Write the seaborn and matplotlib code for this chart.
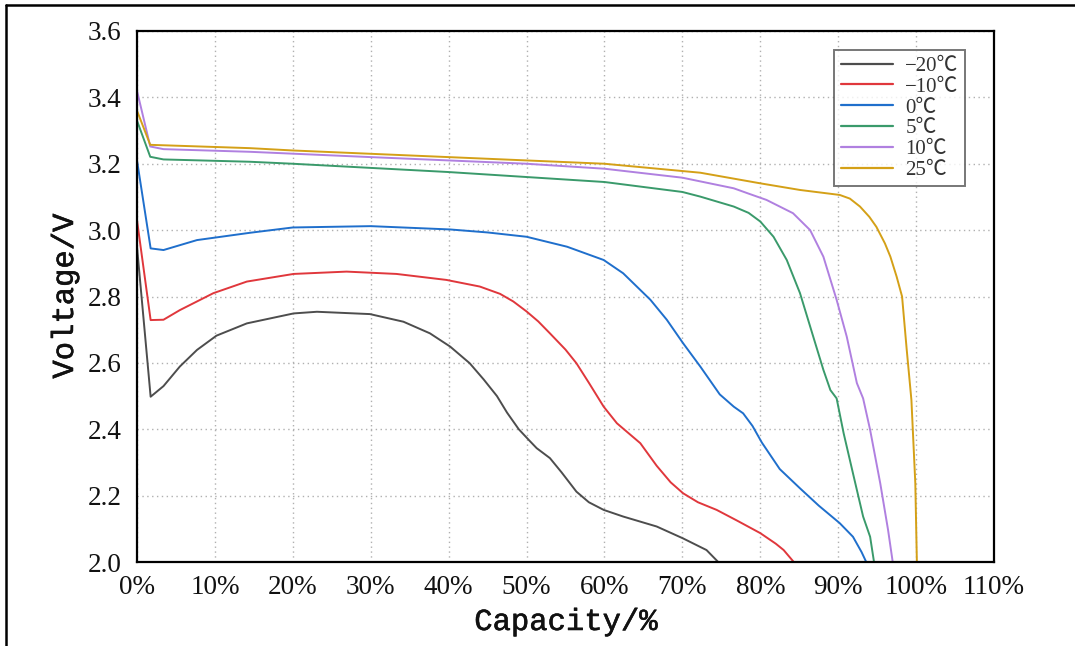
import numpy as np
import pandas as pd
import matplotlib
matplotlib.use("Agg")
import matplotlib.pyplot as plt
import matplotlib.patheffects as pe
import seaborn as sns
from matplotlib.lines import Line2D

# ---- data (Capacity %, Voltage V) ----
labels = ["−20℃", "−10℃", "0℃", "5℃", "10℃", "25℃"]
colors = ["#4d4d4d", "#e0373c", "#1f6fcc", "#3a9a6b", "#b080e0", "#d4a017"]

cap_m20 = [0.0, 1.75, 3.4, 5.5, 7.7, 10.2, 14.1, 20.1, 23.1, 29.9, 34.2, 37.6, 40.2, 42.7,
           44.5, 46.2, 47.5, 49.0, 50.4, 51.3, 53.0, 54.5, 56.4, 58.0, 59.9, 62.4, 66.7, 70.1,
           73.1, 74.6]
v_m20 = [2.95, 2.498, 2.530, 2.589, 2.639, 2.682, 2.719, 2.749, 2.754, 2.747, 2.724, 2.689, 2.649,
         2.599, 2.550, 2.500, 2.450, 2.400, 2.365, 2.343, 2.313, 2.270, 2.212, 2.180, 2.157, 2.137,
         2.107, 2.071, 2.036, 2.0]

cap_m10 = [0.0, 1.75, 3.4, 5.5, 9.8, 14.1, 20.1, 26.9, 33.3, 39.7, 44.0, 46.6, 48.3, 50.0,
           51.5, 53.0, 55.0, 56.4, 58.0, 59.9, 61.6, 63.0, 64.6, 66.7, 68.5, 70.1, 72.0, 74.4,
           77.0, 80.0, 82.0, 83.0, 84.3]
v_m10 = [3.03, 2.729, 2.730, 2.759, 2.810, 2.845, 2.868, 2.875, 2.868, 2.850, 2.830, 2.808, 2.785,
         2.755, 2.725, 2.689, 2.640, 2.599, 2.540, 2.468, 2.418, 2.390, 2.358, 2.290, 2.240, 2.207,
         2.180, 2.157, 2.125, 2.087, 2.055, 2.036, 2.0]

cap_0 = [0.0, 1.75, 3.4, 7.7, 14.5, 20.0, 30.0, 40.2, 45.0, 50.0, 55.2, 59.9, 62.4, 65.9,
         68.0, 70.1, 72.3, 74.8, 76.6, 77.8, 79.0, 80.2, 82.5, 85.1, 87.5, 90.2, 91.9, 93.0, 93.6]
v_0 = [3.21, 2.945, 2.940, 2.970, 2.992, 3.008, 3.012, 3.002, 2.993, 2.980, 2.950, 2.910, 2.870,
       2.790, 2.730, 2.659, 2.589, 2.505, 2.468, 2.448, 2.410, 2.360, 2.280, 2.222, 2.170, 2.117,
       2.076, 2.030, 2.0]

cap_5 = [0.0, 1.7, 3.4, 14.5, 20.0, 40.0, 60.0, 70.0, 72.3, 76.6, 78.5, 80.0, 81.7, 83.4,
         85.1, 86.8, 88.1, 89.0, 89.8, 90.7, 92.0, 93.2, 94.1, 94.6]
v_5 = [3.33, 3.221, 3.213, 3.206, 3.200, 3.175, 3.145, 3.115, 3.101, 3.071, 3.052, 3.026, 2.980,
       2.910, 2.810, 2.679, 2.579, 2.518, 2.493, 2.388, 2.257, 2.137, 2.076, 2.0]

cap_10 = [0.0, 1.7, 3.4, 14.5, 30.0, 50.0, 60.0, 70.0, 76.6, 78.5, 80.8, 84.2, 86.4, 88.1,
          89.8, 91.1, 92.4, 93.2, 94.1, 95.4, 96.4, 97.0]
v_10 = [3.42, 3.252, 3.244, 3.236, 3.220, 3.200, 3.185, 3.158, 3.126, 3.110, 3.091, 3.051, 3.000,
        2.920, 2.790, 2.679, 2.539, 2.493, 2.398, 2.237, 2.097, 2.0]

cap_25 = [0.0, 1.7, 14.5, 20.0, 40.0, 60.0, 72.3, 80.0, 85.1, 90.2, 91.5, 92.8, 94.0, 94.9,
          96.0, 96.7, 97.5, 98.2, 98.8, 99.4, 99.9, 100.1]
v_25 = [3.36, 3.257, 3.247, 3.240, 3.220, 3.200, 3.173, 3.141, 3.121, 3.106, 3.095, 3.071, 3.040,
        3.010, 2.960, 2.920, 2.860, 2.800, 2.639, 2.488, 2.237, 2.0]

caps = [cap_m20, cap_m10, cap_0, cap_5, cap_10, cap_25]
volts = [v_m20, v_m10, v_0, v_5, v_10, v_25]

xticks = [0, 10, 20, 30, 40, 50, 60, 70, 80, 90, 100, 110]
xticklabels = [f"{t}%" for t in xticks]
yticks = [2.0, 2.2, 2.4, 2.6, 2.8, 3.0, 3.2, 3.4, 3.6]

df = pd.concat(
    [pd.DataFrame({"Capacity": c, "Voltage": v, "T": lab})
     for c, v, lab in zip(caps, volts, labels)],
    ignore_index=True,
)

sns.set_theme(style="white")
plt.rcParams["font.family"] = ["Liberation Serif", "Noto Sans CJK SC", "DejaVu Serif"]

fig = plt.figure(figsize=(10.75, 6.46), dpi=100)
ax = fig.add_axes([137 / 1075, 1 - 562 / 646, (994 - 137) / 1075, (562 - 31) / 646])

sns.lineplot(data=df, x="Capacity", y="Voltage", hue="T", hue_order=labels,
             palette=dict(zip(labels, colors)), sort=False, estimator=None,
             units="T", linewidth=1.4, ax=ax, legend=False)

ax.set_xlim(0, 110)
ax.set_ylim(2.0, 3.6)
ax.set_xticks(xticks)
ax.set_xticklabels(xticklabels)
ax.set_yticks(yticks)
ax.set_yticklabels([f"{t:.1f}" for t in yticks])
ax.tick_params(axis="both", direction="in", length=9, width=1.6, labelsize=19.5,
               colors="black", top=False, right=False)
ax.tick_params(axis="x", pad=9)
ax.tick_params(axis="y", pad=11)
for lab in ax.get_xticklabels() + ax.get_yticklabels():
    lab.set_color("#111111")

ax.grid(True, color="#b0b0b0", linestyle=(0, (1, 2.5)), linewidth=1.0)
for s in ax.spines.values():
    s.set_visible(True)
    s.set_color("black")
    s.set_linewidth(1.6)

ax.set_xlabel("Capacity/%", family=["Liberation Mono", "DejaVu Sans Mono"],
              fontsize=22, fontweight="normal", color="#111111")
ax.set_ylabel("Voltage/V", family=["Liberation Mono", "DejaVu Sans Mono"],
              fontsize=22, fontweight="normal", color="#111111")
ax.xaxis.set_label_coords(0.5, (562 - 607) / 531)
ax.yaxis.set_label_coords((80 - 137) / 857, 0.5)
for t in (ax.xaxis.label, ax.yaxis.label):
    t.set_path_effects([pe.Stroke(linewidth=0.4, foreground="#111111"), pe.Normal()])

handles = [Line2D([0], [0], color=c, lw=1.6) for c in colors]
leg = ax.legend(handles, labels, loc="upper right", bbox_to_anchor=(0.966, 0.964),
                borderaxespad=0, frameon=True, fancybox=False, handlelength=2.5,
                handletextpad=0.6, labelspacing=0.06, borderpad=0.3,
                prop={"family": ["Liberation Serif", "Noto Sans CJK SC", "DejaVu Serif"],
                      "size": 15})
leg.get_frame().set_edgecolor("#555555")
leg.get_frame().set_linewidth(1.4)
for t in leg.get_texts():
    t.set_color("#333333")

# outer frame of the image
fig.add_artist(Line2D([6 / 1075, 6 / 1075], [0, 1 - 5 / 646], color="black", lw=1.8,
                      transform=fig.transFigure))
fig.add_artist(Line2D([6 / 1075, 1], [1 - 5 / 646, 1 - 5 / 646], color="black", lw=1.8,
                      transform=fig.transFigure))

fig.savefig("out.png", dpi=100, facecolor="white")
